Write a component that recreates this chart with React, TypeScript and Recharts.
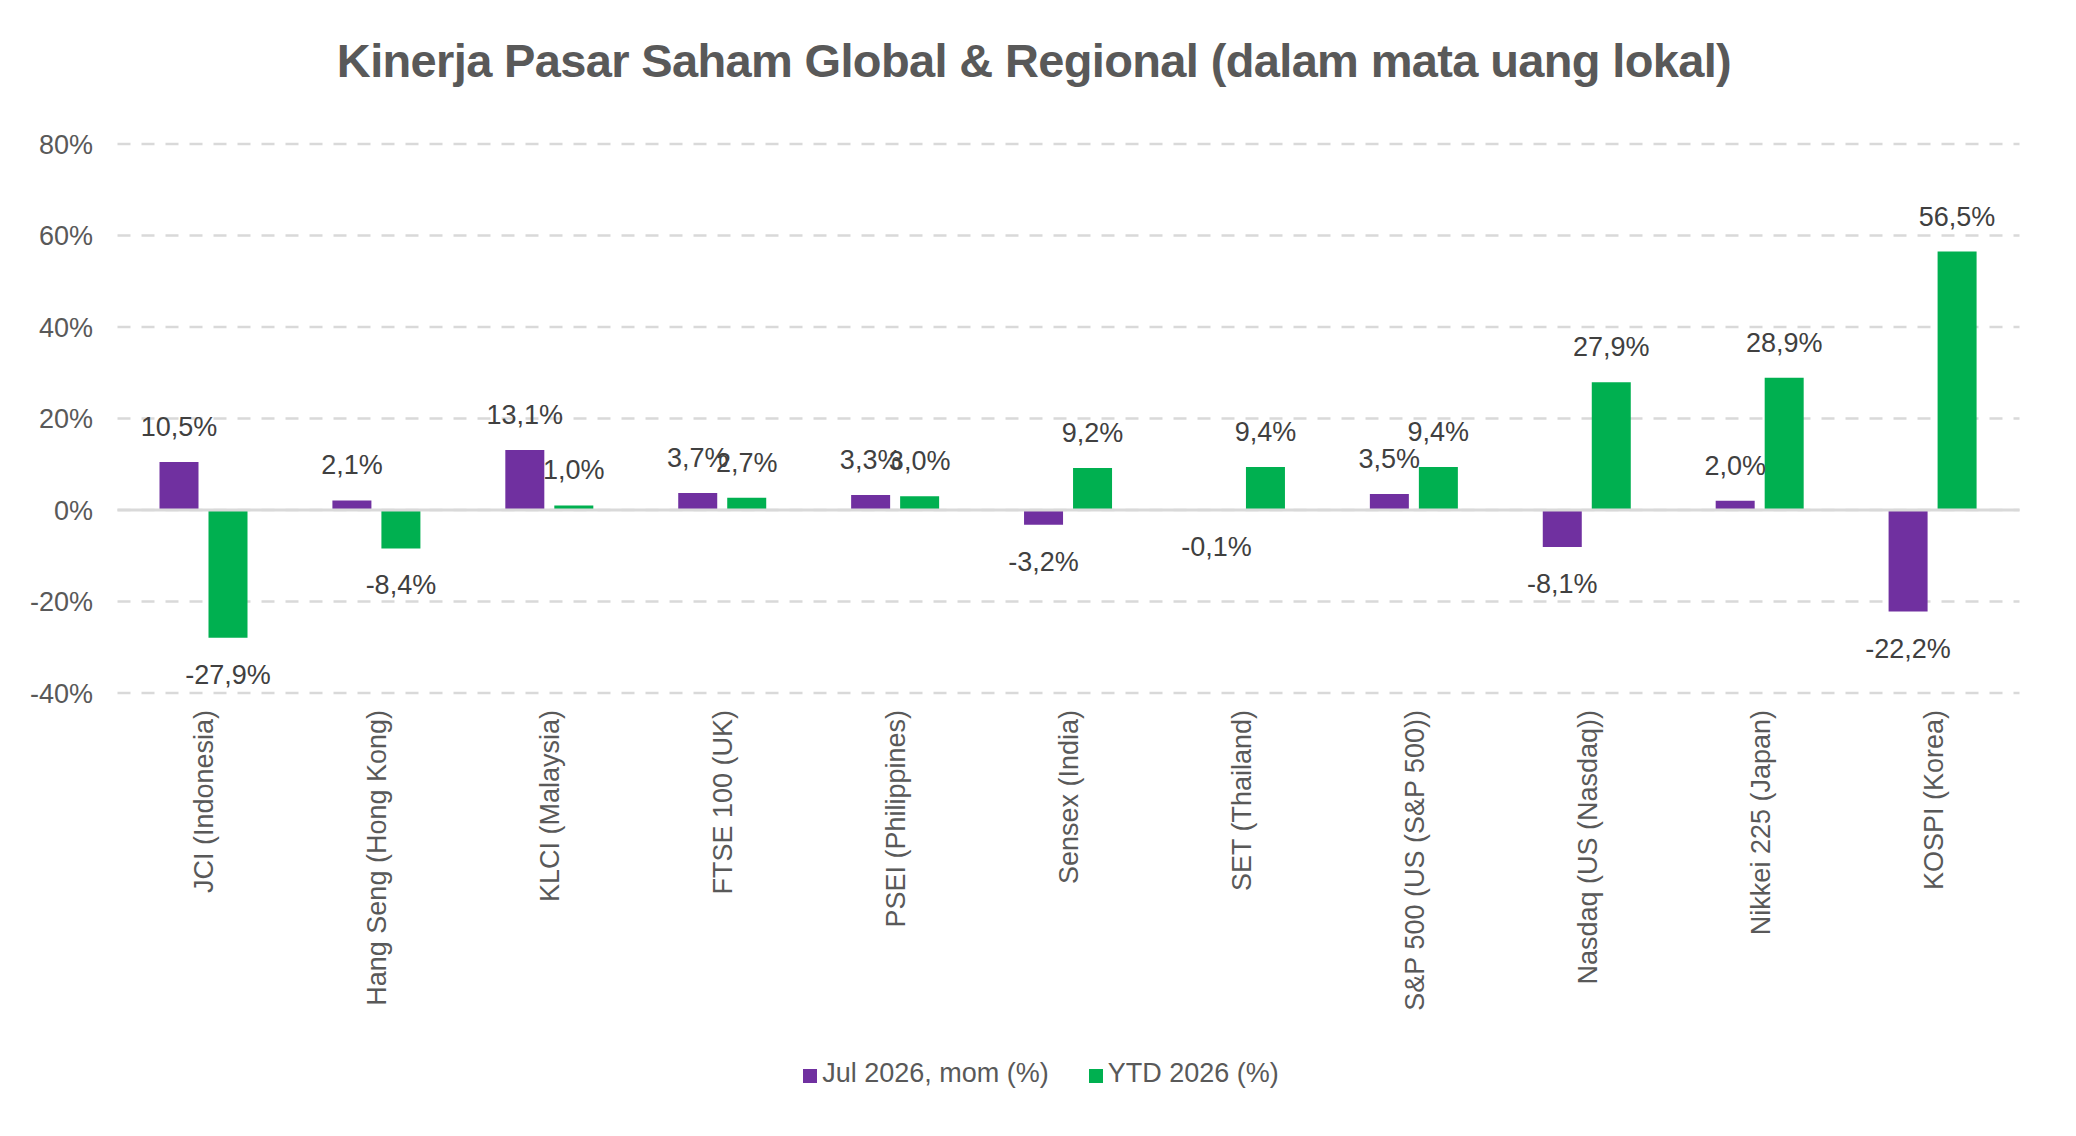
import { BarChart, Bar, XAxis, YAxis, CartesianGrid, ReferenceLine, LabelList } from "recharts";

const categories = [
  "JCI (Indonesia)",
  "Hang Seng (Hong Kong)",
  "KLCI (Malaysia)",
  "FTSE 100 (UK)",
  "PSEI (Philippines)",
  "Sensex (India)",
  "SET (Thailand)",
  "S&P 500 (US (S&P 500))",
  "Nasdaq (US (Nasdaq))",
  "Nikkei 225 (Japan)",
  "KOSPI (Korea)",
];
const momValues = [10.5, 2.1, 13.1, 3.7, 3.3, -3.2, -0.1, 3.5, -8.1, 2.0, -22.2];
const ytdValues = [-27.9, -8.4, 1.0, 2.7, 3.0, 9.2, 9.4, 9.4, 27.9, 28.9, 56.5];
const yTicks = [-40, -20, 0, 20, 40, 60, 80];
const seriesNames = ["Jul 2026, mom (%)", "YTD 2026 (%)"];
const seriesColors = ["#7030A0", "#00B050"];

const data = categories.map((name, i) => ({ name, mom: momValues[i], ytd: ytdValues[i] }));

const FONT = '"Liberation Sans", Arial, sans-serif';
const fmt = (v: number) => `${v.toFixed(1).replace(".", ",")}%`;

// value labels sit outside the bar end, like Excel's "outside end"
function BarValueLabel(props: any) {
  const { x, y, width, height, value } = props;
  const top = Math.min(y, y + height);
  const bottom = Math.max(y, y + height);
  const ty = value >= 0 ? top - 26 : bottom + 46;
  return (
    <text x={x + width / 2} y={ty} textAnchor="middle" fontSize={27} fill="#404040" fontFamily={FONT}>
      {fmt(value)}
    </text>
  );
}

function CategoryTick(props: any) {
  const { x, y, payload } = props;
  return (
    <g transform={`translate(${x + 9.5},${y})`}>
      <text transform="rotate(-90)" textAnchor="end" fontSize={27} fill="#595959" fontFamily={FONT}>
        {payload.value}
      </text>
    </g>
  );
}

export default function App() {
  return (
    <div style={{ position: "absolute", left: 0, top: 0, width: 2076, height: 1136, background: "#fff", fontFamily: FONT }}>
      <div
        style={{
          position: "absolute",
          top: 37,
          left: 0,
          width: 2076,
          paddingRight: 8,
          boxSizing: "border-box",
          textAlign: "center",
          fontSize: 47,
          lineHeight: "47px",
          letterSpacing: -0.65,
          fontWeight: "bold",
          color: "#595959",
        }}
      >
        Kinerja Pasar Saham Global &amp; Regional (dalam mata uang lokal)
      </div>

      <BarChart
        width={2076}
        height={1136}
        data={data}
        barGap={10}
        margin={{ top: 144, right: 56.5, bottom: 93, left: 7.5 }}
      >
        <CartesianGrid vertical={false} stroke="#D9D9D9" strokeWidth={2.5} strokeDasharray="13 11" />
        <XAxis
          dataKey="name"
          interval={0}
          axisLine={false}
          tickLine={false}
          height={350}
          tickMargin={11}
          tick={CategoryTick}
        />
        <YAxis
          domain={[-40, 80]}
          ticks={yTicks}
          tickFormatter={(v) => `${v}%`}
          axisLine={false}
          tickLine={false}
          width={110}
          tickMargin={18.5}
          tick={{ fontSize: 27, fill: "#595959", fontFamily: FONT }}
        />
        <ReferenceLine y={0} stroke="#D9D9D9" strokeWidth={3} />
        <Bar dataKey="mom" name={seriesNames[0]} fill={seriesColors[0]} barSize={39} isAnimationActive={false}>
          <LabelList dataKey="mom" content={BarValueLabel} />
        </Bar>
        <Bar dataKey="ytd" name={seriesNames[1]} fill={seriesColors[1]} barSize={39} isAnimationActive={false}>
          <LabelList dataKey="ytd" content={BarValueLabel} />
        </Bar>
      </BarChart>

      <div
        style={{
          position: "absolute",
          top: 1060,
          left: 0,
          width: 2076,
          paddingLeft: 6,
          boxSizing: "border-box",
          display: "flex",
          justifyContent: "center",
          gap: 40,
          fontSize: 27,
          lineHeight: "27px",
          color: "#595959",
        }}
      >
        {seriesNames.map((n, i) => (
          <div key={n} style={{ display: "flex", alignItems: "center" }}>
            <span
              style={{ width: 14, height: 14, background: seriesColors[i], marginRight: 5, marginTop: 4, display: "inline-block" }}
            />
            <span>{n}</span>
          </div>
        ))}
      </div>
    </div>
  );
}
